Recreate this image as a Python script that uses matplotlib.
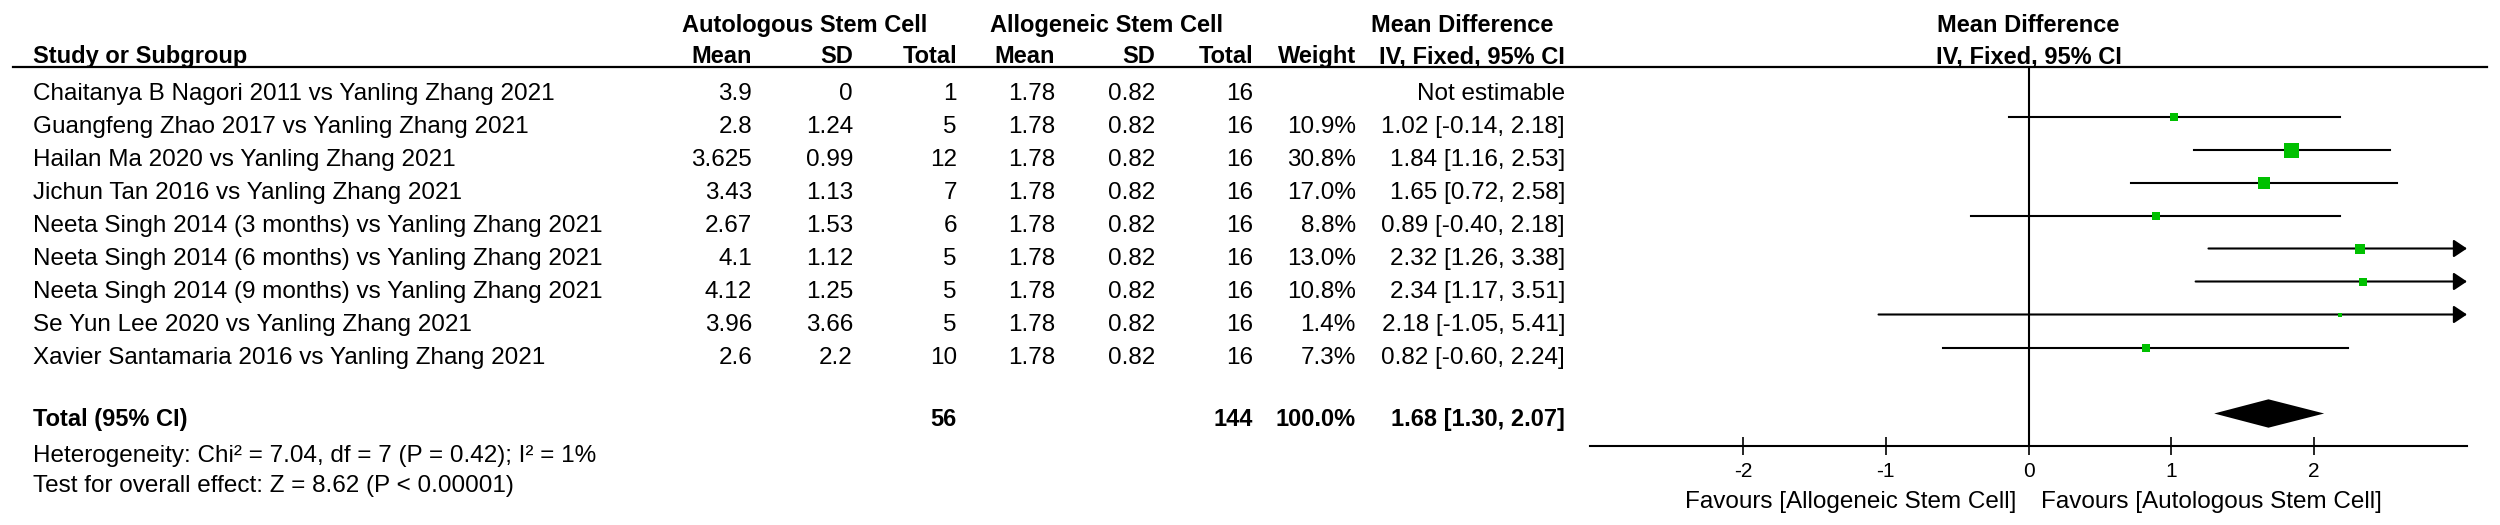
import numpy as np
import matplotlib
matplotlib.use("Agg")
import matplotlib.pyplot as plt
from matplotlib.lines import Line2D
from matplotlib.transforms import blended_transform_factory

plt.rcParams["font.family"] = ["Liberation Sans", "DejaVu Sans"]
plt.rcParams["axes.unicode_minus"] = False

# Data

studies = [
    "Chaitanya B Nagori 2011 vs Yanling Zhang 2021",
    "Guangfeng Zhao 2017 vs Yanling Zhang 2021",
    "Hailan Ma 2020 vs Yanling Zhang 2021",
    "Jichun Tan 2016 vs Yanling Zhang 2021",
    "Neeta Singh 2014 (3 months) vs Yanling Zhang 2021",
    "Neeta Singh 2014 (6 months) vs Yanling Zhang 2021",
    "Neeta Singh 2014 (9 months) vs Yanling Zhang 2021",
    "Se Yun Lee 2020 vs Yanling Zhang 2021",
    "Xavier Santamaria 2016 vs Yanling Zhang 2021",
]
autoMean = [3.9, 2.8, 3.625, 3.43, 2.67, 4.1, 4.12, 3.96, 2.6]
autoSD = [0, 1.24, 0.99, 1.13, 1.53, 1.12, 1.25, 3.66, 2.2]
autoN = [1, 5, 12, 7, 6, 5, 5, 5, 10]
alloMean = [1.78, 1.78, 1.78, 1.78, 1.78, 1.78, 1.78, 1.78, 1.78]
alloSD = [0.82, 0.82, 0.82, 0.82, 0.82, 0.82, 0.82, 0.82, 0.82]
alloN = [16, 16, 16, 16, 16, 16, 16, 16, 16]
weight = [np.nan, 10.9, 30.8, 17.0, 8.8, 13.0, 10.8, 1.4, 7.3]
md = [np.nan, 1.02, 1.84, 1.65, 0.89, 2.32, 2.34, 2.18, 0.82]
ciLow = [np.nan, -0.14, 1.16, 0.72, -0.40, 1.26, 1.17, -1.05, -0.60]
ciHigh = [np.nan, 2.18, 2.53, 2.58, 2.18, 3.38, 3.51, 5.41, 2.24]

totalAutoN = 56
totalAlloN = 144
totalWeight = 100.0
totalMD = 1.68
totalLow = 1.30
totalHigh = 2.07

heterogeneity = "Heterogeneity: Chi\u00b2 = 7.04, df = 7 (P = 0.42); I\u00b2 = 1%"
overallTest = "Test for overall effect: Z = 8.62 (P < 0.00001)"
xTicks = [-2, -1, 0, 1, 2]
favourLeft = "Favours [Allogeneic Stem Cell]"
favourRight = "Favours [Autologous Stem Cell]"

# Layout (pixels of a 2500 x 525 canvas)

W, H = 2500, 525
fs = 17.5
fsBold = 17
green = "#00C000"

fig = plt.figure(figsize=(W / 100, H / 100), dpi=100)
axLeft, axRight = 1590, 2467
axTop, axBottom = 67, 446
ax = fig.add_axes([axLeft / W, 1 - axBottom / H, (axRight - axLeft) / W, (axBottom - axTop) / H])

xMax = 3.07
ax.set_xlim(-xMax, xMax)
rowPx = 33.0
row0 = 83.5
ax.set_ylim((axBottom - row0) / rowPx, (axTop - row0) / rowPx)

rows = np.arange(len(studies))
totalRow = len(studies) + 1

# table text
tr = blended_transform_factory(fig.transFigure, ax.transData)
def fx(p):
    return p / W

colRight = [752, 853, 957, 1055, 1155, 1253, 1356, 1565]
colNames = ["Mean", "SD", "Total", "Mean", "SD", "Total", "Weight", "IV, Fixed, 95% CI"]

hdr1 = -1.56
hdr2 = -0.62
ax.text(fx(33), hdr2, "Study or Subgroup", transform=tr, ha="left", va="baseline", fontsize=fsBold, fontweight="bold")
for x, name in zip(colRight, colNames):
    ax.text(fx(x), hdr2, name, transform=tr, ha="right", va="baseline", fontsize=fsBold, fontweight="bold")
ax.text(fx(805), hdr1, "Autologous Stem Cell", transform=tr, ha="center", va="baseline", fontsize=fsBold, fontweight="bold")
ax.text(fx(1106), hdr1, "Allogeneic Stem Cell", transform=tr, ha="center", va="baseline", fontsize=fsBold, fontweight="bold")
ax.text(fx(1462), hdr1, "Mean Difference", transform=tr, ha="center", va="baseline", fontsize=fsBold, fontweight="bold")

trAx = blended_transform_factory(ax.transAxes, ax.transData)
ax.text(0.5, hdr1, "Mean Difference", transform=trAx, ha="center", va="baseline", fontsize=fsBold, fontweight="bold")
ax.text(0.5, hdr2, "IV, Fixed, 95% CI", transform=trAx, ha="center", va="baseline", fontsize=fsBold, fontweight="bold")

fig.add_artist(Line2D([fx(13), fx(2487)], [-0.5, -0.5], transform=tr, color="black", lw=1.6))

for i, r in enumerate(rows):
    y = r + 0.5
    ax.text(fx(33), y, studies[i], transform=tr, ha="left", va="baseline", fontsize=fs)
    vals = [f"{autoMean[i]:g}", f"{autoSD[i]:g}", f"{autoN[i]}",
            f"{alloMean[i]:g}", f"{alloSD[i]:g}", f"{alloN[i]}"]
    if np.isnan(weight[i]):
        vals += ["", "Not estimable"]
    else:
        vals += [f"{weight[i]:.1f}%", f"{md[i]:.2f} [{ciLow[i]:.2f}, {ciHigh[i]:.2f}]"]
    for x, v in zip(colRight, vals):
        ax.text(fx(x), y, v, transform=tr, ha="right", va="baseline", fontsize=fs)

yT = totalRow + 0.38
ax.text(fx(33), yT, "Total (95% CI)", transform=tr, ha="left", va="baseline", fontsize=fsBold, fontweight="bold")
for x, v in zip([colRight[2], colRight[5], colRight[6], colRight[7]],
                [f"{totalAutoN}", f"{totalAlloN}", f"{totalWeight:.1f}%",
                 f"{totalMD:.2f} [{totalLow:.2f}, {totalHigh:.2f}]"]):
    ax.text(fx(x), yT, v, transform=tr, ha="right", va="baseline", fontsize=fsBold, fontweight="bold")
ax.text(fx(33), totalRow + 1.47, heterogeneity, transform=tr, ha="left", va="baseline", fontsize=fs)
ax.text(fx(33), totalRow + 2.38, overallTest, transform=tr, ha="left", va="baseline", fontsize=fs)

# forest plot
ax.axvline(0, color="black", lw=1.5, zorder=1)
for i, r in enumerate(rows):
    if np.isnan(md[i]):
        continue
    if ciHigh[i] > xMax:
        ax.annotate("", xy=(xMax, r), xytext=(ciLow[i], r),
                    arrowprops=dict(arrowstyle="-|>,head_length=0.45,head_width=0.3",
                                    color="black", lw=1.5, shrinkA=0, shrinkB=0,
                                    mutation_scale=18),
                    annotation_clip=False, zorder=2)
    else:
        ax.plot([ciLow[i], ciHigh[i]], [r, r], color="black", lw=1.5, zorder=2)
    side = 15 * np.sqrt(weight[i] / 30.8) * 0.72
    ax.scatter([md[i]], [r], marker="s", s=side**2, color=green, linewidths=0, zorder=3)

ax.fill([totalLow, totalMD, totalHigh, totalMD],
        [totalRow, totalRow - 0.43, totalRow, totalRow + 0.43], color="black", lw=0, zorder=3)

for s in ["top", "left", "right"]:
    ax.spines[s].set_visible(False)
ax.spines["bottom"].set_linewidth(1.5)
ax.set_yticks([])
ax.set_xticks(xTicks)
ax.set_xticklabels([str(t) for t in xTicks])
ax.tick_params(axis="x", direction="inout", length=12.5, width=1.2, pad=5, labelsize=15)
ax.patch.set_visible(False)

ax.annotate(favourLeft, xy=(0, 0), xycoords=("data", "axes fraction"), xytext=(-9, -44.5),
            textcoords="offset points", ha="right", va="baseline", fontsize=fs, annotation_clip=False)
ax.annotate(favourRight, xy=(0, 0), xycoords=("data", "axes fraction"), xytext=(9, -44.5),
            textcoords="offset points", ha="left", va="baseline", fontsize=fs, annotation_clip=False)

fig.savefig("out.png", dpi=100)
